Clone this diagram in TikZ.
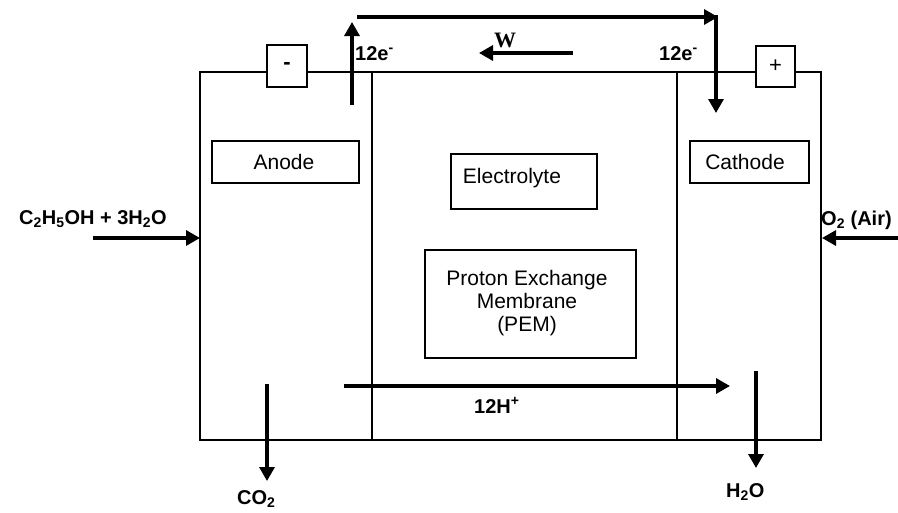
\documentclass[tikz,border=0pt]{standalone}
\usepackage{fontspec}
\setmainfont{Liberation Sans}
\newfontfamily\wfont{Liberation Serif}
\usetikzlibrary{arrows.meta}
\begin{document}
\begin{tikzpicture}[x=1pt,y=-1pt,
  thinline/.style={line width=1.1pt},
  box/.style={draw, line width=1.1pt, inner sep=0pt, fill=white},
  boxtext/.style={font=\fontsize{21}{23}\selectfont, inner sep=0pt, align=center},
  lbl/.style={font=\fontsize{20}{22}\selectfont\bfseries, inner sep=0pt},
  flow/.style={line width=3.2pt, -{Triangle[length=14pt,width=15pt]}},
]
\useasboundingbox (0,0) rectangle (898,512);

% cell outline and dividers
\node[draw, line width=1.1pt, inner sep=0pt, minimum width=621pt, minimum height=368pt] (cell) at (510.5,256) {};
\coordinate (d1t) at (372,72); \coordinate (d1b) at (372,440);
\coordinate (d2t) at (677,72); \coordinate (d2b) at (677,440);
\draw[thinline] (d1t) -- (d1b);
\draw[thinline] (d2t) -- (d2b);

% terminals
\node[box, minimum width=40pt, minimum height=42pt, font=\fontsize{22}{24}\selectfont\bfseries] (neg) at (287,66) {-};
\node[box, minimum width=39pt, minimum height=41pt, font=\fontsize{22}{24}\selectfont] (pos) at (775.5,66.5) {+};

% inner boxes
\node[box, minimum width=147pt, minimum height=42pt] (anodeBox) at (285.5,162) {};
\node[boxtext] (anodeTxt) at (284,162) {Anode};
\node[box, minimum width=119pt, minimum height=42pt] (cathBox) at (749.5,162) {};
\node[boxtext] (cathTxt) at (745,162) {Cathode};
\node[box, minimum width=146pt, minimum height=55pt] (elecBox) at (524,181.5) {};
\node[boxtext] (elecTxt) at (512,178) {Electrolyte};
\node[box, minimum width=211pt, minimum height=108pt] (pemBox) at (530.5,304) {};
\node[boxtext, font=\fontsize{21}{23}\selectfont] (pemTxt) at (527,303) {Proton Exchange\\Membrane\\(PEM)};

% electron circuit
\coordinate (eUpS) at (352,105); \coordinate (eUpE) at (352,22);
\coordinate (eTopS) at (357,17); \coordinate (eTopE) at (718,17);
\coordinate (eDnS) at (716,15.4); \coordinate (eDnE) at (716,113);
\draw[flow] (eUpS) -- (eUpE);
\draw[flow] (eTopS) -- (eTopE);
\draw[flow] (eDnS) -- (eDnE);
\node[lbl, anchor=base west] (eL) at (355,60) {12e\textsuperscript{-}};
\node[lbl, anchor=base west] (eR) at (659,60) {12e\textsuperscript{-}};
\node[inner sep=0pt, anchor=base, font=\fontsize{22}{24}\selectfont\wfont\bfseries] (W) at (505,47) {W};
\coordinate (wS) at (573,53); \coordinate (wE) at (479,53);
\draw[flow] (wS) -- (wE);

% inputs
\node[lbl, anchor=base east] (fuel) at (167,224) {C\textsubscript{2}H\textsubscript{5}OH + 3H\textsubscript{2}O};
\coordinate (fuelS) at (93,238); \coordinate (fuelE) at (200,238);
\draw[flow] (fuelS) -- (fuelE);
\node[lbl, anchor=base west] (air) at (821,225) {O\textsubscript{2} (Air)};
\coordinate (airS) at (898,238); \coordinate (airE) at (822,238);
\draw[flow] (airS) -- (airE);

% protons
\coordinate (hS) at (344,386); \coordinate (hE) at (730,386);
\draw[flow] (hS) -- (hE);
\node[lbl, anchor=base west] (hLbl) at (474,413) {12H\textsuperscript{+}};

% outputs
\coordinate (co2S) at (267,384); \coordinate (co2E) at (267,481);
\draw[flow] (co2S) -- (co2E);
\node[lbl, anchor=base west] (co2) at (237,504) {CO\textsubscript{2}};
\coordinate (h2oS) at (756,371); \coordinate (h2oE) at (756,468);
\draw[flow] (h2oS) -- (h2oE);
\node[lbl, anchor=base west] (h2o) at (726,497) {H\textsubscript{2}O};
\end{tikzpicture}
\end{document}
